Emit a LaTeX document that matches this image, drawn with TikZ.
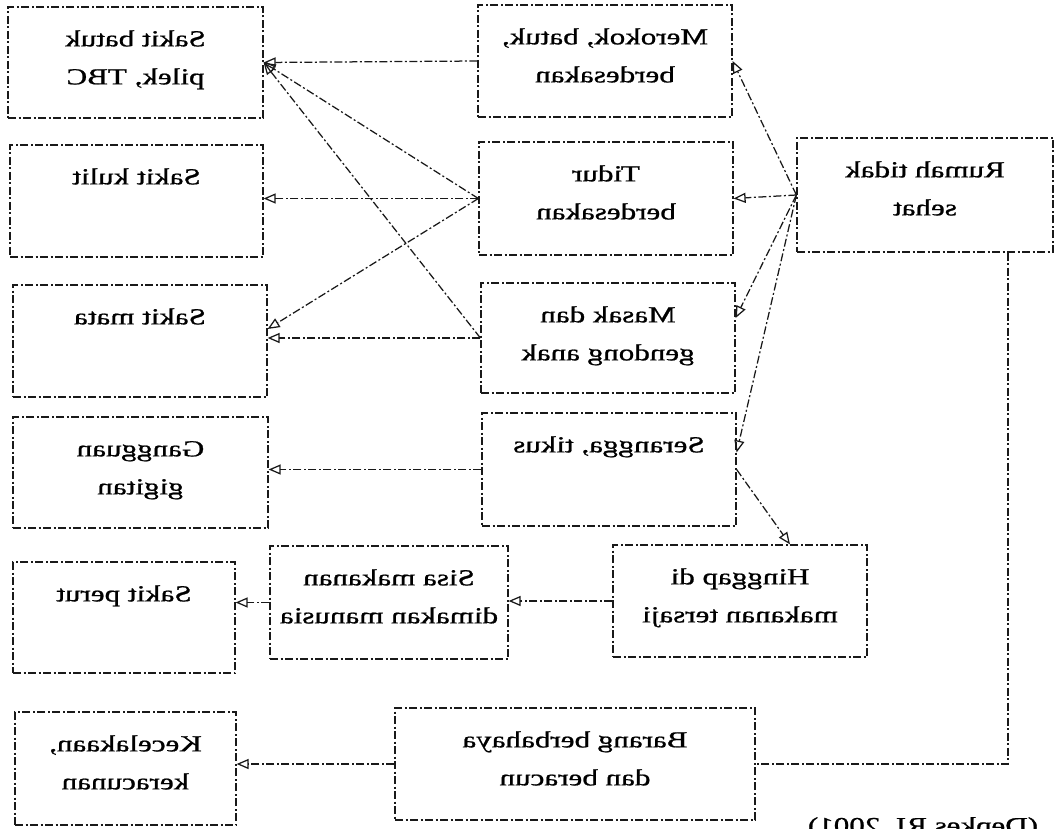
\documentclass[tikz,border=0pt]{standalone}
\usepackage{fontspec}
\setmainfont{Liberation Serif}[FakeBold=0.8]
\usepackage{graphicx}
\usetikzlibrary{arrows.meta}

% mirrored, slightly widened multi-line label (baseline = first line)
\newcommand\mirtext[1]{\scalebox{-1.35}[1]{\begin{tabular}[t]{@{}c@{}}#1\end{tabular}}}

\tikzset{
  dd/.style={line width=1.25pt, dash pattern=on 8pt off 2.5pt on 2pt off 2.5pt, black!90},
  box/.style={dd, draw, rectangle, inner sep=0pt},
  lbl/.style={anchor=base, inner sep=0pt, font=\fontsize{23}{38}\selectfont},
  conn/.style={dd, -{Triangle[open, length=12pt, width=10pt]}},
  plain/.style={dd},
}

% name, centre x, centre y, width, height, text
\newcommand\diagbox[6]{%
  \node[box, minimum width=#4pt, minimum height=#5pt] (#1) at (#2,#3) {};
  \node[lbl] (#1-t) at ([yshift=-40pt]#1.north) {\mirtext{#6}};}

\begin{document}
\begin{tikzpicture}[x=1pt, y=-1pt]
\useasboundingbox (0,0) rectangle (1057,829);
\clip (0,0) rectangle (1057,829);

% effects (left column)
\diagbox{b1}{135.5}{62.5}{255}{111}{Sakit batuk\\pilek, TBC}
\diagbox{b2}{136.5}{201}{253}{112}{Sakit kulit}
\diagbox{b3}{140}{341}{254}{112}{Sakit mata}
\diagbox{b4}{140.5}{472.5}{255}{111}{Gangguan\\gigitan}
\diagbox{b5}{124}{617.5}{222}{111}{Sakit perut}
\diagbox{b6}{125.5}{768.5}{221}{113}{Kecelakaan,\\keracunan}

% causes (middle column)
\diagbox{m1}{605}{61}{254}{112}{Merokok, batuk,\\berdesakan}
\diagbox{m2}{606}{198.5}{254}{113}{Tidur\\berdesakan}
\diagbox{m3}{608}{338}{254}{110}{Masak dan\\gendong anak}
\diagbox{m4}{609}{469.5}{254}{113}{Serangga, tikus}
\diagbox{sisa}{389}{602.5}{238}{113}{Sisa makanan\\dimakan manusia}
\diagbox{hing}{740}{601}{254}{112}{Hinggap di\\makanan tersaji}
\diagbox{bar}{575}{764}{360}{112}{Barang berbahaya\\dan beracun}

% source
\diagbox{rum}{925}{195}{256}{114}{Rumah tidak\\sehat}

% caption
\node[anchor=north, inner sep=0pt, font=\fontsize{23}{38}\selectfont] (src) at (923,817) {\scalebox{-1.35}[1]{(Depkes RI, 2001)}};

% rumah -> causes
\draw[conn] (rum.west) -- (m1.east);
\draw[conn] (rum.west) -- (m2.east);
\draw[conn] (rum.west) -- ([yshift=20pt]m3.east);
\draw[conn] (rum.west) -- ([yshift=17pt]m4.east);
\draw[plain] ([xshift=83pt]rum.south) |- (bar.east);

% causes -> effects
\draw[conn] (m1.west) -- (b1.east);
\draw[conn] (m2.west) -- (b1.east);
\draw[conn] (m3.west) -- (b1.east);
\draw[conn] (m2.west) -- (m2.west -| b2.east);
\draw[conn] (m2.west) -- ([yshift=12pt]b3.east);
\draw[conn] (m3.west) -- (m3.west -| b3.east);
\draw[conn] (m4.west) -- (m4.west -| b4.east);
\draw[conn] (m4.east) -- ([xshift=50pt]hing.north);
\draw[conn] (hing.west) -- (hing.west -| sisa.east);
\draw[conn] (sisa.west) -- (sisa.west -| b5.east);
\draw[conn] (bar.west) -- (bar.west -| b6.east);
\end{tikzpicture}
\end{document}
